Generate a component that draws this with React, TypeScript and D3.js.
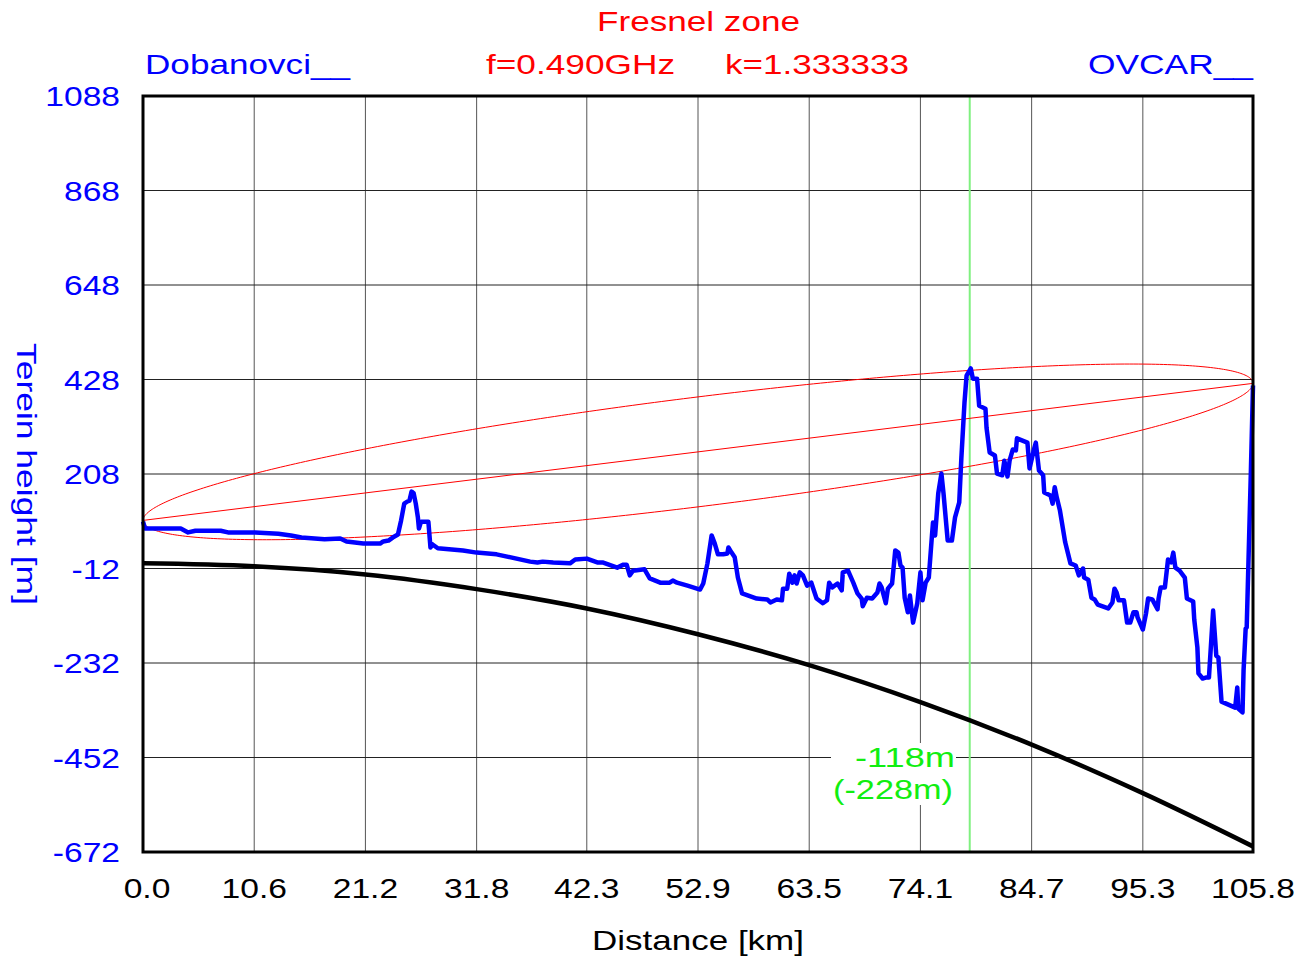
import React from "react";
import * as d3 from "d3";

// ---- Data ----
const distTicks = [0, 10.6, 21.2, 31.8, 42.3, 52.9, 63.5, 74.1, 84.7, 95.3, 105.8];
const distTickLabels = ["0.0", "10.6", "21.2", "31.8", "42.3", "52.9", "63.5", "74.1", "84.7", "95.3", "105.8"];
const heightTicks = [1088, 868, 648, 428, 208, -12, -232, -452, -672];

// terrain profile (km, m)
const terrainDist = [
  0.0, 0.2, 2.7, 3.6, 4.3, 5.0, 7.4, 8.1, 10.7, 12.9, 14.1, 15.1, 17.3, 18.8, 19.4, 21.0, 22.6, 22.9, 23.4, 23.8,
  24.3, 24.6, 24.9, 25.2, 25.4, 25.6, 25.8, 26.0, 26.2, 26.3, 26.5, 27.2, 27.4, 27.6, 28.1, 30.5, 31.8, 33.7, 36.9, 37.6,
  38.1, 39.1, 40.7, 41.2, 42.3, 43.3, 43.8, 45.2, 45.8, 46.1, 46.4, 46.7, 47.8, 48.3, 49.3, 50.2, 50.5, 50.9, 51.9, 53.1,
  53.4, 53.8, 54.2, 54.5, 54.8, 55.3, 55.7, 55.8, 56.1, 56.4, 56.7, 57.1, 58.5, 59.5, 59.8, 60.4, 60.9, 61.0, 61.4, 61.6,
  61.9, 62.1, 62.3, 62.6, 62.9, 63.3, 63.7, 64.2, 64.8, 65.2, 65.4, 65.7, 66.2, 66.6, 66.7, 67.2, 67.7, 68.1, 68.5, 68.6,
  69.0, 69.5, 70.0, 70.2, 70.4, 70.8, 71.0, 71.4, 71.7, 72.0, 72.2, 72.4, 72.6, 72.9, 73.1, 73.4, 73.8, 74.1, 74.3, 74.6,
  74.9, 75.2, 75.3, 75.5, 75.8, 76.1, 76.3, 76.7, 77.1, 77.4, 77.8, 78.0, 78.3, 78.5, 78.9, 79.1, 79.5, 79.7, 80.3, 80.4,
  80.7, 81.2, 81.4, 81.9, 82.1, 82.4, 82.6, 82.9, 83.2, 83.3, 84.3, 84.5, 84.9, 85.1, 85.4, 85.8, 85.9, 86.5, 86.7, 86.9,
  87.1, 87.4, 87.9, 88.4, 88.9, 89.2, 89.6, 89.7, 90.1, 90.4, 90.7, 91.0, 92.0, 92.4, 92.6, 92.8, 93.0, 93.5, 93.8, 94.1,
  94.4, 94.7, 94.8, 95.3, 95.6, 95.8, 96.2, 96.7, 96.8, 97.0, 97.4, 97.7, 98.0, 98.2, 98.4, 98.8, 99.3, 99.5, 100.1, 100.2,
  100.5, 100.6, 101.0, 101.3, 101.6, 102.0, 102.3, 102.5, 102.8, 104.1, 104.3, 104.4, 104.8, 104.9, 105.1, 105.2, 105.6, 105.8,
];
const terrainHeight = [
  97, 81, 81, 81, 72, 76, 76, 72, 72, 69, 65, 60, 56, 58, 51, 46, 46, 51, 53, 60,
  67, 100, 139, 144, 146, 167, 163, 139, 107, 81, 97, 97, 37, 44, 35, 30, 25, 21, 4, 2,
  4, 2, 0, 9, 11, 2, 2, -10, -3, -3, -28, -17, -14, -35, -45, -45, -40, -45, -52, -61,
  -47, 0, 65, 46, 21, 21, 23, 37, 25, 14, -33, -70, -82, -84, -91, -84, -86, -59, -59, -24,
  -45, -28, -47, -21, -28, -52, -45, -82, -93, -86, -45, -56, -47, -63, -21, -17, -45, -70, -82, -100,
  -80, -82, -68, -47, -56, -93, -59, -47, 30, 25, -5, -10, -80, -114, -75, -138, -93, -21, -86, -45,
  -33, 65, 95, 65, 163, 209, 163, 53, 53, 107, 142, 244, 374, 437, 454, 430, 430, 367, 360, 316,
  258, 251, 209, 205, 239, 202, 239, 265, 263, 291, 281, 221, 263, 281, 216, 205, 165, 158, 139, 177,
  153, 123, 49, 0, -5, -28, -12, -33, -38, -80, -84, -96, -105, -91, -59, -68, -86, -86, -138, -138,
  -114, -114, -126, -154, -117, -82, -84, -107, -82, -56, -56, 9, 2, 25, -10, -17, -33, -82, -89, -131,
  -196, -256, -268, -266, -266, -110, -215, -219, -322, -336, -289, -338, -347, -250, -152, -149, 216, 414,
];

// earth curvature line (read at the distance ticks)
const earthDist = distTicks;
const earthHeight = [0, -7, -26, -60, -105, -165, -237, -323, -422, -535, -659];

// line of sight end points & first Fresnel zone radius at mid-path
const losStartHeight = 100;
const losEndHeight = 419;
const fresnelMidRadius = 128;

const markerDist = 78.8;

const FONT = "'Liberation Sans', Arial, Helvetica, sans-serif";

export default function App() {
  const left = 143, right = 1253, top = 96, bottom = 852;
  const x = d3.scaleLinear().domain([0, 105.8]).range([left, right]);
  const y = d3.scaleLinear().domain([-672, 1088]).range([bottom, top]);

  const terrain = terrainDist.map((d, i) => [d, terrainHeight[i]] as [number, number]);
  const terrainPath = d3.line<[number, number]>().x(p => x(p[0])).y(p => y(p[1]))(terrain) || "";

  const earth = earthDist.map((d, i) => [d, earthHeight[i]] as [number, number]);
  const earthPath = d3
    .line<[number, number]>()
    .x(p => x(p[0]))
    .y(p => y(p[1]))
    .curve(d3.curveMonotoneX)(earth) || "";

  const D = 105.8;
  const losAt = (t: number) => losStartHeight + t * (losEndHeight - losStartHeight);
  const steps = d3.range(0, 241).map(i => (1 - Math.cos((Math.PI * i) / 240)) / 2);
  const upper = steps.map(t => [t * D, losAt(t) + fresnelMidRadius * 2 * Math.sqrt(Math.max(0, t * (1 - t)))] as [number, number]);
  const lower = steps
    .slice()
    .reverse()
    .map(t => [t * D, losAt(t) - fresnelMidRadius * 2 * Math.sqrt(Math.max(0, t * (1 - t)))] as [number, number]);
  const ellipsePath = d3.line<[number, number]>().x(p => x(p[0])).y(p => y(p[1]))([...upper, ...lower]) + "Z";

  const tickText = (props: { x: number; y: number; anchor: string; children: string; key?: string; fill: string }) => (
    <text
      key={props.key}
      transform={`translate(${props.x},${props.y}) scale(1.2,1)`}
      textAnchor={props.anchor}
      fontFamily={FONT}
      fontSize={28}
      fill={props.fill}
    >
      {props.children}
    </text>
  );

  return (
    <svg
      width={1313}
      height={962}
      style={{ position: "absolute", left: 0, top: 0, background: "#fff" }}
    >
      <rect x={0} y={0} width={1313} height={962} fill="#fff" />
      {/* grid */}
      {distTicks.map(v => (
        <line key={"gx" + v} x1={x(v)} x2={x(v)} y1={top} y2={bottom} stroke="#555" strokeWidth={1} />
      ))}
      {heightTicks.map(v => (
        <line key={"gy" + v} x1={left} x2={right} y1={y(v)} y2={y(v)} stroke="#222" strokeWidth={1} />
      ))}
      {/* marker line */}
      <line x1={x(markerDist)} x2={x(markerDist)} y1={top} y2={bottom} stroke="#80f080" strokeWidth={2} />
      {/* fresnel zone */}
      <path d={ellipsePath} fill="none" stroke="#ff0000" strokeWidth={1} />
      <line x1={x(0)} y1={y(losStartHeight)} x2={x(D)} y2={y(losEndHeight)} stroke="#ff0000" strokeWidth={1} />
      {/* earth curve */}
      <path d={earthPath} fill="none" stroke="#000" strokeWidth={4.5} />
      {/* terrain */}
      <path d={terrainPath} fill="none" stroke="#0000ff" strokeWidth={4.5} strokeLinejoin="round" />
      {/* frame */}
      <rect x={left} y={top} width={right - left} height={bottom - top} fill="none" stroke="#000" strokeWidth={3} />

      {/* marker label */}
      <rect x={831} y={743} width={125} height={62} fill="#fff" />
      <text x={855} y={767} textLength={100} lengthAdjust="spacingAndGlyphs" fontFamily={FONT} fontSize={28} fill="#11ee11">
        -118m
      </text>
      <text x={833} y={799} textLength={120} lengthAdjust="spacingAndGlyphs" fontFamily={FONT} fontSize={28} fill="#11ee11">
        (-228m)
      </text>

      {/* titles */}
      <text x={597} y={31} textLength={203} lengthAdjust="spacingAndGlyphs" fontFamily={FONT} fontSize={28} fill="#ff0000">
        Fresnel zone
      </text>
      <text x={145} y={74} textLength={205} lengthAdjust="spacingAndGlyphs" fontFamily={FONT} fontSize={28} fill="#0000ff">
        Dobanovci__
      </text>
      <text x={486} y={74} textLength={189} lengthAdjust="spacingAndGlyphs" fontFamily={FONT} fontSize={28} fill="#ff0000">
        f=0.490GHz
      </text>
      <text x={725} y={74} textLength={184} lengthAdjust="spacingAndGlyphs" fontFamily={FONT} fontSize={28} fill="#ff0000">
        k=1.333333
      </text>
      <text x={1088} y={74} textLength={165} lengthAdjust="spacingAndGlyphs" fontFamily={FONT} fontSize={28} fill="#0000ff">
        OVCAR__
      </text>

      {/* y tick labels */}
      {heightTicks.map(v => tickText({ key: "yl" + v, x: 120, y: y(v) + 10, anchor: "end", children: String(v), fill: "#0000ff" }))}
      {/* x tick labels */}
      {distTicks.map((v, i) =>
        tickText({ key: "xl" + v, x: i === 0 ? x(v) + 4 : x(v), y: 898, anchor: "middle", children: distTickLabels[i], fill: "#000" })
      )}

      {/* axis titles */}
      <text x={592} y={950} textLength={212} lengthAdjust="spacingAndGlyphs" fontFamily={FONT} fontSize={28} fill="#000">
        Distance [km]
      </text>
      <text
        transform={`translate(17,343) rotate(90)`}
        x={0}
        y={0}
        textLength={262}
        lengthAdjust="spacingAndGlyphs"
        fontFamily={FONT}
        fontSize={28}
        fill="#0000ff"
      >
        Terein height [m]
      </text>
    </svg>
  );
}
